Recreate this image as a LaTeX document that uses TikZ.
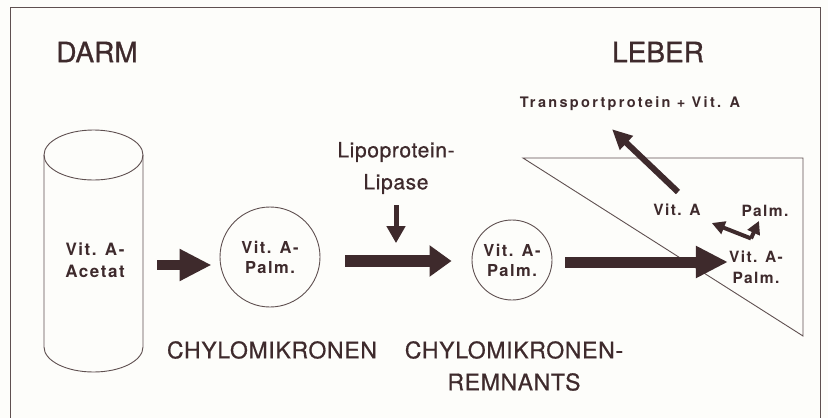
\documentclass[tikz,border=0pt]{standalone}
\usepackage{fontspec}
\setmainfont{TeX Gyre Heros}
\newfontfamily\wide[LetterSpace=16]{TeX Gyre Heros}
\newfontfamily\midsp[LetterSpace=9]{TeX Gyre Heros}
\newfontfamily\heavy[FakeBold=1]{TeX Gyre Heros}
\newfontfamily\slight[LetterSpace=3,FakeBold=0.6]{TeX Gyre Heros}
\usetikzlibrary{arrows.meta}
\definecolor{ink}{RGB}{62,42,44}
\definecolor{lin}{RGB}{95,80,80}
\definecolor{paper}{RGB}{253,253,250}
\begin{document}
\begin{tikzpicture}[x=1pt,y=-1pt,
  every node/.style={inner sep=0pt, text=ink, align=center},
  title/.style={font=\heavy\fontsize{28}{30}\selectfont},
  caption/.style={font=\slight\fontsize{23}{32}\selectfont},
  lbl/.style={font=\midsp\bfseries\fontsize{16.5}{20}\selectfont},
  biglbl/.style={font=\midsp\bfseries\fontsize{17}{22}\selectfont},
  smlbl/.style={font=\midsp\bfseries\fontsize{15.5}{21}\selectfont},
  tplbl/.style={font=\wide\bfseries\fontsize{14.5}{20}\selectfont},
  thinline/.style={draw=lin, line width=0.9pt},
  ball/.style={circle, thinline, minimum size=#1},
  arrA/.style={draw=ink, line width=10pt, -{Triangle[length=32pt,width=30pt]}},
  arrB/.style={draw=ink, line width=12pt, -{Triangle[length=22pt,width=30pt]}},
  arrC/.style={draw=ink, line width=11pt, -{Triangle[length=32pt,width=30pt]}},
  arrD/.style={draw=ink, line width=6pt, -{Triangle[length=20pt,width=18pt]}},
  arrS/.style={draw=ink, line width=5pt, -{Triangle[length=17pt,width=18pt]}},
  arrT/.style={draw=ink, line width=4pt, -{Triangle[length=13pt,width=13pt]}},
]
\useasboundingbox (0,0) rectangle (828,418);
\fill[paper] (0,0) rectangle (828,418);
% frame
\draw[thinline] (10,418) -- (10,7) -- (820,7) -- (820,418);

% titles
\node[title] (darm) at (97,52) {DARM};
\node[title] (leber) at (658,52) {LEBER};

% cylinder
\draw[thinline] (44,155) -- (44,347) arc[start angle=180, end angle=0, x radius=49.5, y radius=25] -- (143,155);
\draw[thinline] (93.5,155) ellipse[x radius=49.5, y radius=25];
\node[minimum width=99pt, minimum height=192pt] (cylbody) at (93.5,251) {};
\node[biglbl] (cyl) at (95,260) {Vit. A-\\Acetat};

% chylomicrons
\node[ball=100pt, lbl] (c1) at (270,257) {Vit. A-\\Palm.};
\node[ball=80pt, lbl] (c2) at (512,260) {Vit. A-\\Palm.};

% lipase
\node[font=\slight\fontsize{21}{32}\selectfont] (lip) at (396,168) {Lipoprotein-\\Lipase};

% captions
\node[caption] (chy) at (272,350) {CHYLOMIKRONEN};
\node[caption] (rem) at (514,366) {CHYLOMIKRONEN-\\REMNANTS};

% liver
\draw[thinline] (523,158) -- (803,158) -- (803,336) -- cycle;
\node[tplbl] (tp) at (630,104) {Transportprotein + Vit. A};
\node[smlbl] (vita) at (677,210) {Vit. A};
\node[smlbl] (palm) at (765,211) {Palm.};
\node[smlbl] (vap) at (756,267) {Vit. A-\\Palm.};

% arrows
\draw[arrA] ([shift={(14pt,-14pt)}]cylbody.east) -- ([shift={(-8pt,-8pt)}]c1.west);
\draw[arrB] ([shift={(25pt,-4pt)}]c1.east) -- ([shift={(-20pt,-1pt)}]c2.west);
\draw[arrC] ([shift={(13pt,-2pt)}]c2.east) -- ([shift={(-1pt,5pt)}]vap.west);
\draw[arrS] ([yshift=-11pt]lip.south) -- ++(0,38);
\draw[arrD] ([shift={(1pt,12pt)}]vita.north) -- ([shift={(-18pt,-18pt)}]tp.south);
\coordinate (split) at ([shift={(-5pt,12pt)}]vap.north);
\draw[arrT] (split) -- ([shift={(11pt,-13pt)}]vita.east);
\draw[arrT] (split) -- ([shift={(-6pt,-4pt)}]palm.south);
\end{tikzpicture}
\end{document}
